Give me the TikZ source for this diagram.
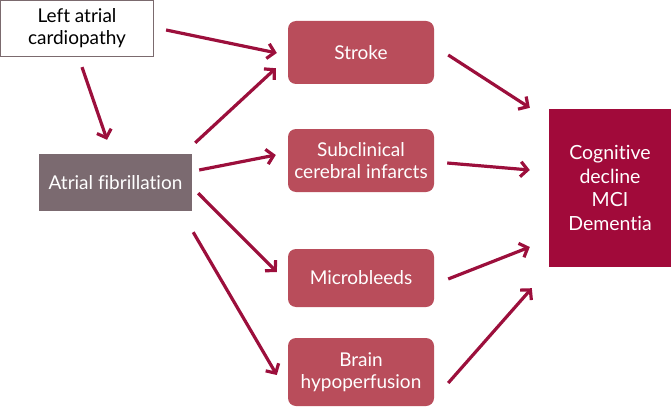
\documentclass[tikz,border=0pt]{standalone}
\usepackage{fontspec}
\setmainfont{Lato}[RawFeature={-liga}]
\usetikzlibrary{arrows.meta}
\definecolor{arrowc}{HTML}{9C0F3C}
\definecolor{boxc}{HTML}{B94D5B}
\definecolor{cogc}{HTML}{A10A3A}
\definecolor{afc}{HTML}{7B6A70}
\definecolor{lacb}{HTML}{7B6A6E}
\begin{document}
\begin{tikzpicture}[x=1pt,y=-1pt,
  txt/.style={font=\fontsize{19}{22}\selectfont, align=center, inner sep=0pt, anchor=center},
  midbox/.style={txt, fill=boxc, text=white, rounded corners=8pt, minimum width=146pt},
  arr/.style={draw=arrowc, line width=3.2pt, -{Straight Barb[length=7pt,width=15pt]}}]
\useasboundingbox (0,0) rectangle (671,409);
\node[txt, draw=lacb, line width=1.2pt, fill=white, text=black, minimum width=153pt, minimum height=56pt] (lac) at (77,28.5) {Left atrial\\cardiopathy};
\node[txt, fill=afc, text=white, minimum width=153pt, minimum height=57pt] (af) at (115.5,182.5) {Atrial fibrillation};
\node[midbox, minimum height=63pt] (stroke) at (361,52.5) {Stroke};
\node[midbox, minimum height=63pt] (sub) at (361,160.5) {Subclinical\\cerebral infarcts};
\node[midbox, minimum height=58pt] (micro) at (361,278) {Microbleeds};
\node[midbox, minimum height=68pt] (brain) at (361,372) {Brain\\hypoperfusion};
\node[txt, fill=cogc, text=white, minimum width=122pt, minimum height=158pt, font=\fontsize{19.5}{23.5}\selectfont] (cog) at (610,188) {Cognitive\\decline\\MCI\\Dementia};
\draw[arr] ([shift={(12,1.5)}]lac.east) -- ([shift={(-11,0.5)}]stroke.west);
\draw[arr] ([shift={(5,10)}]lac.south) -- ([shift={(-8.5,-14)}]af.north);
\draw[arr] ([shift={(3,-11)}]af.north east) -- ([shift={(-12,-16)}]stroke.south west);
\draw[arr] ([shift={(7,-12.5)}]af.east) -- ([shift={(-12,-5.5)}]sub.west);
\draw[arr] ([shift={(6,-18)}]af.south east) -- ([shift={(-11,-6)}]micro.west);
\draw[arr] ([shift={(1,21)}]af.south east) -- ([shift={(-11,3)}]brain.west);
\draw[arr] ([shift={(14,2.5)}]stroke.east) -- ([shift={(-19,-1)}]cog.north west);
\draw[arr] ([shift={(13,2.5)}]sub.east) -- ([shift={(-19,-18)}]cog.west);
\draw[arr] ([shift={(14,1)}]micro.east) -- ([shift={(-19,59)}]cog.west);
\draw[arr] ([shift={(14,11)}]brain.east) -- ([shift={(-17,21)}]cog.south west);
\end{tikzpicture}
\end{document}
